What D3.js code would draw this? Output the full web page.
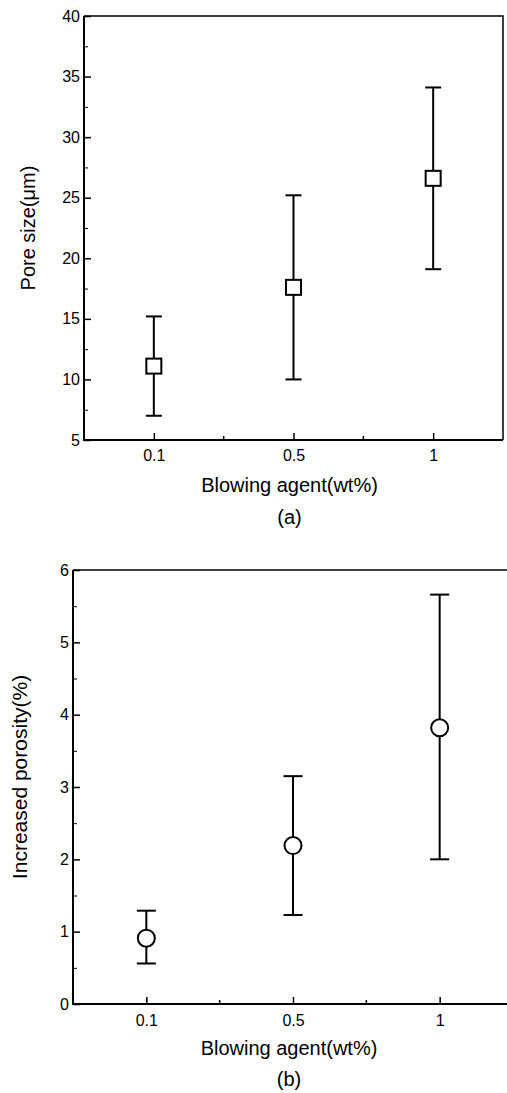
<!DOCTYPE html>
<html>
<head>
<meta charset="utf-8">
<script src="https://cdn.jsdelivr.net/npm/d3@7"></script>
<style>
    body { margin: 0; background: #fff; }
    text { font-family: 'Liberation Sans', Arial, sans-serif; fill: #000; }
</style>
</head>
<body>
<svg class="fig" width="507" height="1093"></svg>
<script>
// values
const categories = ['0.1', '0.5', '1'];

const poreMean = [11.1, 17.6, 26.6];
const poreLow = [7.0, 10.0, 19.1];
const poreHigh = [15.2, 25.2, 34.1];
const poreTicks = [5, 10, 15, 20, 25, 30, 35, 40];
const poreMinorTicks = [7.5, 12.5, 17.5, 22.5, 27.5, 32.5, 37.5];

const porosityMean = [0.91, 2.19, 3.82];
const porosityLow = [0.56, 1.23, 2.0];
const porosityHigh = [1.29, 3.15, 5.66];
const porosityTicks = [0, 1, 2, 3, 4, 5, 6];
const porosityMinorTicks = [0.5, 1.5, 2.5, 3.5, 4.5, 5.5];

const xTitle = 'Blowing agent(wt%)';

const svg = d3.select('.fig');

function panel(opt) {
    const x = d3.scalePoint()
        .domain(categories)
        .range([opt.left, opt.right])
        .padding(0.5);

    const y = d3.scaleLinear()
        .domain(opt.yDomain)
        .range([opt.bottom, opt.top]);

    const g = svg.append('g');

    // minor ticks (inward)
    g.append('g')
        .attr('transform', `translate(${opt.left},0)`)
        .call(d3.axisLeft(y).tickValues(opt.minor).tickSize(-4).tickFormat(''))
        .call(a => a.select('.domain').remove());

    const mids = d3.pairs(categories).map(p => (x(p[0]) + x(p[1])) / 2);
    g.append('g')
        .selectAll('line')
        .data(mids)
        .join('line')
        .attr('x1', d => d).attr('x2', d => d)
        .attr('y1', opt.bottom).attr('y2', opt.bottom - 4)
        .attr('stroke', '#000')
        .attr('stroke-width', 1.5);

    // major ticks + labels
    g.append('g')
        .attr('transform', `translate(${opt.left},0)`)
        .style('font-size', '16px')
        .call(d3.axisLeft(y).tickValues(opt.ticks).tickSize(-7).tickPadding(4).tickFormat(d3.format('d')))
        .call(a => a.select('.domain').remove())
        .call(a => a.selectAll('line').attr('stroke-width', 1.5))
        .call(a => a.selectAll('text').attr('font-family', null));

    g.append('g')
        .attr('transform', `translate(0,${opt.bottom})`)
        .style('font-size', '16px')
        .call(d3.axisBottom(x).tickSize(-7).tickPadding(opt.xPad))
        .call(a => a.select('.domain').remove())
        .call(a => a.selectAll('line').attr('stroke-width', 1.5))
        .call(a => a.selectAll('text').attr('font-family', null));

    // frame
    g.append('path')
        .attr('d', `M${opt.left},${opt.top}H${opt.frameRight}V${opt.bottom}`)
        .attr('fill', 'none')
        .attr('stroke', '#000')
        .attr('stroke-width', 1.5);
    g.append('path')
        .attr('d', `M${opt.left},${opt.top}V${opt.bottom}H${opt.frameRight}`)
        .attr('fill', 'none')
        .attr('stroke', '#000')
        .attr('stroke-width', 2);

    // error bars
    const rows = categories.map((c, i) => ({ c, m: opt.mean[i], lo: opt.low[i], hi: opt.high[i] }));
    const bars = g.append('g')
        .attr('stroke', '#000')
        .attr('stroke-width', 2)
        .selectAll('g')
        .data(rows)
        .join('g');
    bars.append('line')
        .attr('x1', d => x(d.c)).attr('x2', d => x(d.c))
        .attr('y1', d => y(d.lo)).attr('y2', d => y(d.hi));
    bars.append('line')
        .attr('x1', d => x(d.c) - opt.cap / 2).attr('x2', d => x(d.c) + opt.cap / 2)
        .attr('y1', d => y(d.hi)).attr('y2', d => y(d.hi));
    bars.append('line')
        .attr('x1', d => x(d.c) - opt.cap / 2).attr('x2', d => x(d.c) + opt.cap / 2)
        .attr('y1', d => y(d.lo)).attr('y2', d => y(d.lo));

    // markers
    if (opt.shape === 'square') {
        g.selectAll('rect.pt')
            .data(rows)
            .join('rect')
            .attr('class', 'pt')
            .attr('x', d => x(d.c) - 7.5)
            .attr('y', d => y(d.m) - 7.5)
            .attr('width', 15)
            .attr('height', 15)
            .attr('fill', '#fff')
            .attr('stroke', '#000')
            .attr('stroke-width', 2);
    } else {
        g.selectAll('circle.pt')
            .data(rows)
            .join('circle')
            .attr('class', 'pt')
            .attr('cx', d => x(d.c))
            .attr('cy', d => y(d.m))
            .attr('r', 8.5)
            .attr('fill', '#fff')
            .attr('stroke', '#000')
            .attr('stroke-width', 2);
    }

    // titles
    const cx = x(categories[1]);
    g.append('text')
        .attr('x', cx - 4)
        .attr('y', opt.xTitleY)
        .attr('text-anchor', 'middle')
        .style('font-size', '20px')
        .text(xTitle);
    g.append('text')
        .attr('x', cx - 4)
        .attr('y', opt.capY)
        .attr('text-anchor', 'middle')
        .style('font-size', '20px')
        .text(opt.caption);
    g.append('text')
        .attr('transform', `translate(${opt.yTitleX},${opt.yTitleY}) rotate(-90)`)
        .attr('text-anchor', 'middle')
        .style('font-size', opt.yTitleSize)
        .text(opt.yTitle);
}

panel({
    left: 84, right: 503, frameRight: 503, top: 16, bottom: 440,
    yDomain: [5, 40], ticks: poreTicks, minor: poreMinorTicks,
    mean: poreMean, low: poreLow, high: poreHigh,
    shape: 'square', cap: 16, xPad: 10,
    xTitleY: 492, capY: 524, caption: '(a)',
    yTitle: 'Pore size(\u03bcm)', yTitleX: 35, yTitleY: 228, yTitleSize: '20px'
});

panel({
    left: 73, right: 513, frameRight: 513, top: 570, bottom: 1004,
    yDomain: [0, 6], ticks: porosityTicks, minor: porosityMinorTicks,
    mean: porosityMean, low: porosityLow, high: porosityHigh,
    shape: 'circle', cap: 19, xPad: 11,
    xTitleY: 1055, capY: 1086, caption: '(b)',
    yTitle: 'Increased porosity(%)', yTitleX: 27, yTitleY: 777, yTitleSize: '21px'
});
</script>
</body>
</html>
